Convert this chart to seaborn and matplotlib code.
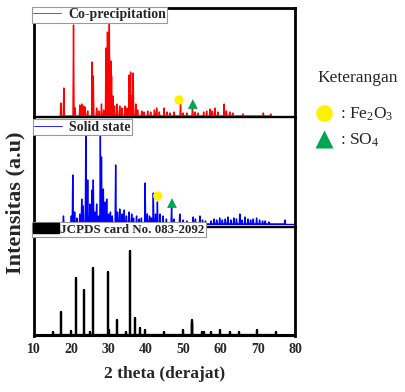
import numpy as np
import pandas as pd
import matplotlib
matplotlib.use("Agg")
import matplotlib.pyplot as plt
from matplotlib.lines import Line2D
from matplotlib.patches import Patch
import seaborn as sns

# peak positions (2 theta) and heights
copre_pos = [17.2, 18.0, 20.6, 21.0, 22.3, 22.8, 23.3, 23.7, 24.4, 25.6, 25.9, 26.8, 27.4, 28.1, 28.7,
             29.3, 29.7, 30.2, 30.6, 30.8, 31.2, 31.6, 32.3, 33.0, 33.6, 34.4, 34.9, 35.5, 35.9, 36.2,
             36.6, 37.3, 37.8, 38.9, 39.5, 40.5, 41.3, 42.3, 42.9, 43.6, 44.9, 45.7, 46.5, 47.6, 49.3,
             50.0, 51.0, 52.5, 53.2, 54.0, 55.5, 56.3, 57.2, 57.8, 58.5, 59.3, 61.0, 61.6, 62.5, 63.3,
             66.0, 71.5, 73.5]
copre_int = [13, 28, 91, 8, 11, 12, 10, 9, 5, 54, 40, 8, 5, 12, 6,
             68, 84, 94, 55, 40, 20, 10, 12, 10, 8, 10, 8, 41, 44, 20,
             43, 12, 6, 5, 4, 5, 4, 6, 8, 4, 8, 4, 3, 4, 13,
             3, 3, 9, 4, 3, 4, 5, 7, 5, 8, 4, 12, 5, 4, 3,
             2, 3, 2]

solid_pos = [17.9, 20.0, 20.4, 20.9, 21.5, 22.3, 22.8, 23.2, 23.9, 24.4, 25.0, 25.6, 25.9, 26.4, 26.8,
             27.3, 27.8, 28.1, 28.6, 29.1, 29.5, 30.0, 30.5, 31.0, 31.9, 32.4, 33.0, 33.6, 34.2, 34.8,
             35.5, 36.2, 36.7, 37.5, 38.2, 38.8, 39.8, 40.4, 41.0, 41.5, 42.0, 42.6, 43.1, 43.8, 44.6,
             45.5, 46.9, 47.5, 49.1, 50.0, 51.0, 52.7, 53.3, 54.5, 55.2, 56.0, 57.5, 58.3, 59.0, 59.8,
             60.5, 61.3, 62.0, 62.8, 63.6, 64.3, 65.2, 65.8, 66.6, 67.4, 68.1, 68.8, 69.7, 70.5, 71.3,
             72.0, 73.0, 77.3]
solid_int = [8, 8, 49, 12, 6, 10, 25, 18, 92, 44, 20, 34, 44, 12, 20,
             8, 89, 67, 35, 22, 25, 10, 12, 8, 59, 12, 15, 10, 14, 8,
             12, 10, 6, 8, 5, 6, 41, 10, 8, 6, 31, 10, 22, 10, 8,
             5, 17, 5, 10, 4, 3, 7, 5, 8, 4, 3, 3, 5, 4, 6,
             4, 5, 7, 4, 6, 5, 10, 4, 7, 5, 4, 5, 6, 4, 3,
             3, 2, 4]

jcpds_pos = [15.0, 17.2, 20.0, 21.3, 23.3, 24.9, 25.7, 29.8, 30.2, 32.3, 34.8, 35.8, 37.1, 38.4, 39.9,
             44.9, 49.9, 52.3, 52.5, 55.0, 55.7, 57.5, 59.9, 62.7, 65.0, 69.9, 74.9]
jcpds_int = [3, 23, 4, 57, 45, 3, 67, 63, 5, 15, 3, 84, 17, 7, 5,
             3, 5, 12, 15, 3, 3, 3, 5, 3, 3, 5, 3]

# phase markers: (2 theta, height) per panel
fe2o3_marks = {"Co-precipitation": (48.9, 16), "Solid state": (43.2, 28)}
so4_marks = {"Co-precipitation": (52.6, 12), "Solid state": (47.0, 21)}

x_ticks = [10, 20, 30, 40, 50, 60, 70, 80]


def spikes(pos, inten, w):
    # turn a peak list into a stick/spike line
    xs, ys = [], []
    for p, h in zip(pos, inten):
        xs += [p - w, p, p + w]
        ys += [0, h, 0]
    return pd.DataFrame({"2theta": xs, "I": ys})


sns.set_style("ticks")
plt.rcParams["font.family"] = ["Liberation Serif", "DejaVu Serif"]
plt.rcParams["mathtext.fontset"] = "custom"
plt.rcParams["mathtext.rm"] = "Liberation Serif"
plt.rcParams["mathtext.it"] = "Liberation Serif"

fig = plt.figure(figsize=(4.06, 3.92), dpi=100)
W, H = 406, 392
left, right = 34, 295
tops = [8, 117.3, 226.7, 336]
ylims = [(-1.3, 108), (-2.7, 106.7), (-1, 108.3)]

panels = [
    ("Co-precipitation", copre_pos, copre_int, "red", 0.15, 1.0, 10),
    ("Solid state", solid_pos, solid_int, "blue", 0.15, 1.0, 10),
    ("JCPDS card No. 083-2092", jcpds_pos, jcpds_int, "black", 0.0, 1.6, 9.4),
]
leg_anchor = [(-0.008, 1.012), (-0.004, 0.982), (-0.008, 1.046)]

axes = []
for i, (name, pos, inten, col, w, lw, fs) in enumerate(panels):
    ax = fig.add_axes([left / W, 1 - tops[i + 1] / H, (right - left) / W, (tops[i + 1] - tops[i]) / H])
    df = spikes(pos, inten, w)
    sns.lineplot(data=df, x="2theta", y="I", color=col, lw=lw, sort=False, estimator=None, ax=ax)
    ax.axhline(0, color=col, lw=1.0 if col != "black" else 1.5, zorder=1)
    if name in fe2o3_marks:
        fx, fy = fe2o3_marks[name]
        sx, sy = so4_marks[name]
        ax.scatter([fx], [fy], s=45, color="#FFF200", edgecolor="none", zorder=5)
        ax.scatter([sx], [sy], s=50, marker="^", color="#00A651", edgecolor="none", zorder=5)
    ax.set_xlim(10, 80)
    ax.set_ylim(*ylims[i])
    ax.set_yticks([])
    ax.set_ylabel("")
    ax.set_xlabel("")
    for s in ax.spines.values():
        s.set_linewidth(1.0)
        s.set_color("black")
    ax.spines["left"].set_linewidth(2.0)
    ax.spines["right"].set_linewidth(2.0)
    ax.spines["bottom"].set_linewidth(1.5)
    if i == 0:
        ax.spines["top"].set_linewidth(2.0)
    ax.set_xticks(x_ticks)
    ax.tick_params(axis="x", length=0, pad=5)
    if i < 2:
        ax.set_xticklabels([])
    else:
        ax.set_xticklabels([str(t) for t in x_ticks], fontsize=10, fontweight="bold")
        ax.set_xlabel("2 theta (derajat)", fontsize=12.5, fontweight="bold", labelpad=7)
    if col == "black":
        handle = Patch(facecolor="black", edgecolor="black")
        tpad = 0.05
    else:
        handle = Line2D([], [], color=col, lw=0.6)
        tpad = 0.5
    leg = ax.legend([handle], [name], loc="upper left", bbox_to_anchor=leg_anchor[i],
                    frameon=True, fancybox=False, framealpha=1, edgecolor="#999999",
                    borderpad=0.1, handlelength=2.0, handleheight=0.8, handletextpad=tpad,
                    borderaxespad=0, prop={"weight": "bold", "size": fs})
    leg.get_frame().set_linewidth(0.8)
    leg.set_zorder(10)
    axes.append(ax)

fig.text(15 / W, 1 - 203 / H, "Intensitas (a.u)", rotation=90, ha="center", va="center",
         fontsize=16, fontweight="bold")

fig.text(317 / W, 1 - 78 / H, "Keterangan", ha="left", va="center", fontsize=12.5)
key_handles = [
    Line2D([], [], ls="none", marker="o", markersize=12, color="#FFF200", markeredgecolor="none"),
    Line2D([], [], ls="none", marker="^", markersize=13, color="#00A651", markeredgecolor="none"),
]
key = fig.legend(key_handles, [r": Fe$_\mathrm{2}$O$_\mathrm{3}$", r": SO$_\mathrm{4}$"],
                 loc="upper left", bbox_to_anchor=(305 / W, 1 - 97 / H),
                 frameon=False, fontsize=12.5,
                 handlelength=1.2, handletextpad=0.3, labelspacing=0.5, borderpad=0)

fig.savefig("out.png", dpi=100)
